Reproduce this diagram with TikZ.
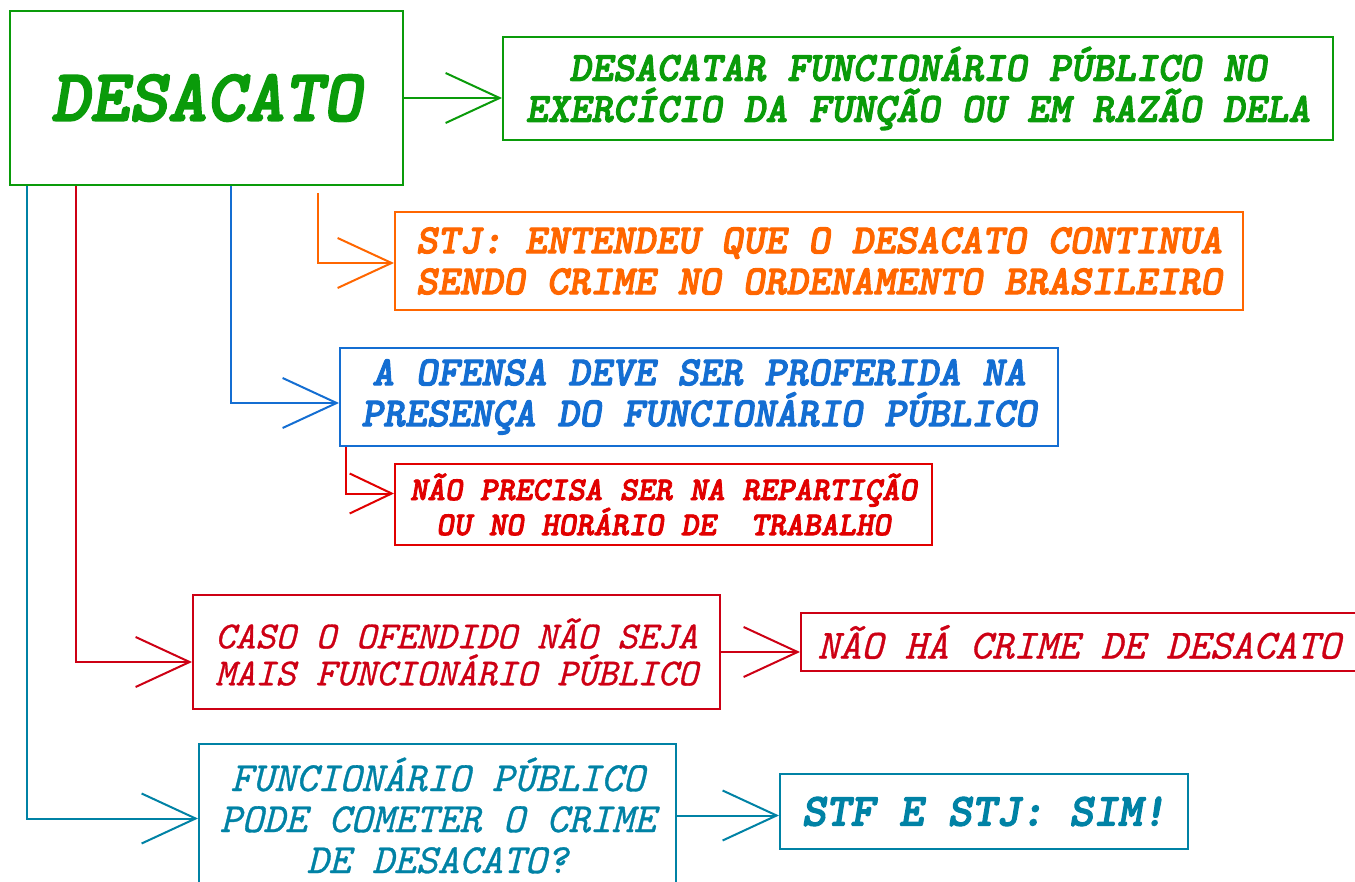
\documentclass[tikz,border=0pt]{standalone}
\usepackage{fontspec}
\newfontfamily\cbold{lmmonolt10-boldoblique.otf}[FakeBold=2.5]
\newfontfamily\creg{lmmono10-italic.otf}[FakeBold=0.8]
\usetikzlibrary{arrows.meta}
\definecolor{dgreen}{RGB}{10,155,10}
\definecolor{dorange}{RGB}{255,102,0}
\definecolor{dblue}{RGB}{20,110,210}
\definecolor{dred}{RGB}{225,0,0}
\definecolor{ddred}{RGB}{205,0,20}
\definecolor{dteal}{RGB}{0,130,165}
\begin{document}
\begin{tikzpicture}[x=1pt,y=-1pt,
    box/.style={draw, line width=2pt, inner sep=0pt, align=center},
    bfit/.style={font={\cbold\fontsize{41.5}{41}\selectfont}},
    itit/.style={font={\creg\fontsize{41.5}{41}\selectfont}},
    chev/.style={line width=2pt, -{Straight Barb[length=54pt,width=50pt,line width=2pt]}},
    smallchev/.style={line width=2pt, -{Straight Barb[length=42pt,width=40pt,line width=2pt]}}]
        \useasboundingbox (0,0) rectangle (1355,882);

        \node[box,dgreen,font={\cbold\fontsize{74}{70}\selectfont},minimum width=393pt,minimum height=174pt] (desacato) at (206.5,98) {DESACATO};
        \node[box,bfit,dgreen,minimum width=830pt,minimum height=103pt] (definicao) at (918,88.5) {DESACATAR FUNCIONÁRIO PÚBLICO NO\\EXERCÍCIO DA FUNÇÃO OU EM RAZÃO DELA};
        \node[box,bfit,dorange,minimum width=848pt,minimum height=98pt] (stj) at (819,261) {STJ: ENTENDEU QUE O DESACATO CONTINUA\\SENDO CRIME NO ORDENAMENTO BRASILEIRO};
        \node[box,bfit,dblue,minimum width=718pt,minimum height=98pt] (ofensa) at (699,397) {A OFENSA DEVE SER PROFERIDA NA\\PRESENÇA DO FUNCIONÁRIO PÚBLICO};
        \node[box,dred,font={\cbold\fontsize{33.3}{32}\selectfont},minimum width=537pt,minimum height=81pt] (reparticao) at (663.5,504.5) {NÃO PRECISA SER NA REPARTIÇÃO\\OU NO HORÁRIO DE~~TRABALHO};
        \node[box,ddred,font={\creg\fontsize{38.3}{37}\selectfont},minimum width=527pt,minimum height=114pt] (caso) at (456.5,652) {CASO O OFENDIDO NÃO SEJA\\MAIS FUNCIONÁRIO PÚBLICO};
        \node[box,itit,ddred,minimum width=556pt,minimum height=58pt] (naoha) at (1079,642) {NÃO HÁ CRIME DE DESACATO};
        \node[box,itit,dteal,minimum width=477pt,minimum height=143pt] (pergunta) at (437.5,815.5) {FUNCIONÁRIO PÚBLICO\\PODE COMETER O CRIME\\DE DESACATO?};
        \node[box,dteal,font={\cbold\fontsize{46.3}{44}\selectfont},minimum width=408pt,minimum height=75pt] (stf) at (984,811.5) {STF E STJ: SIM!};

        \draw[chev,dgreen] (desacato.east) -- (desacato.east -| definicao.west);
        \draw[chev,dorange] ([xshift=309pt,yshift=-7pt]desacato.south west) |- ([yshift=-2pt]stj.west);
        \draw[chev,dblue] ([xshift=222pt]desacato.south west) |- ([yshift=-6pt]ofensa.west);
        \draw[smallchev,dred] ([xshift=7pt]ofensa.south west) |- ([yshift=11pt]reparticao.west);
        \draw[chev,ddred] ([xshift=67pt]desacato.south west) |- ([yshift=-10pt]caso.west);
        \draw[chev,ddred] (caso.east) -- (caso.east -| naoha.west);
        \draw[chev,dteal] ([xshift=18pt]desacato.south west) |- ([yshift=-3pt]pergunta.west);
        \draw[chev,dteal] (pergunta.east) -- (pergunta.east -| stf.west);
          \end{tikzpicture}
\end{document}
